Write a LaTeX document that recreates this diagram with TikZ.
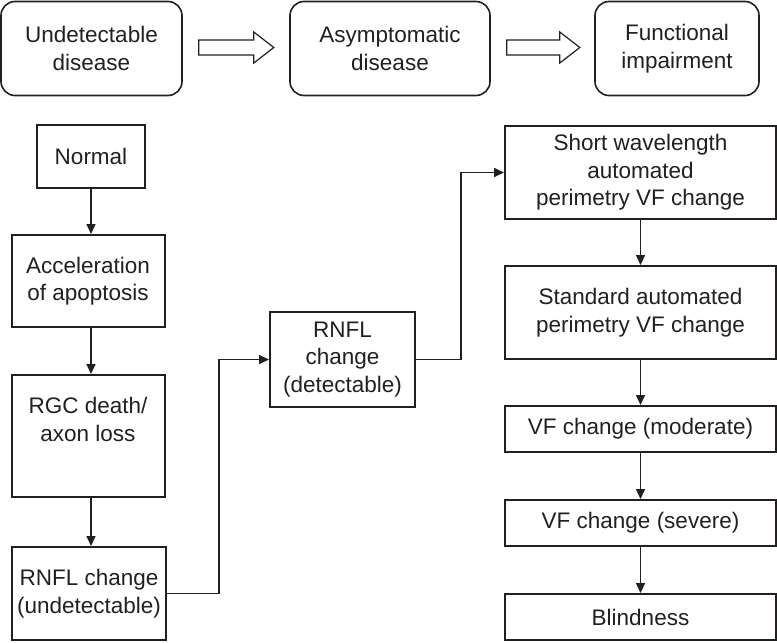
\documentclass[tikz,border=0pt]{standalone}
\usepackage{fontspec}
\setmainfont{Liberation Sans}
\usetikzlibrary{arrows.meta,calc}
\definecolor{ink}{HTML}{231F20}
\begin{document}
\begin{tikzpicture}[x=1pt,y=-1pt,
  every node/.style={font=\fontsize{22.5}{27.5}\selectfont, text=ink},
  bx/.style={draw=ink, line width=2pt, inner sep=0pt, align=center},
  topbox/.style={bx, rounded corners=14pt, line width=1.6pt},
  conn/.style={draw=ink, line width=1.6pt, -{Triangle[length=10pt,width=9pt]}},
  harrow/.style={draw=ink, line width=1.2pt, line join=miter}]
\useasboundingbox (0,0) rectangle (777,643);
% top row
\node[topbox, minimum width=181pt, minimum height=94pt] (t1) at (91.5,48.5) {Undetectable\\disease};
\node[topbox, minimum width=200pt, minimum height=94pt] (t2) at (390,48.5) {Asymptomatic\\disease};
\node[topbox, minimum width=164pt, minimum height=94pt] (t3) at (677,48.5) {Functional\\impairment};
\draw[harrow, shift={($(t1.east)+(16,-1)$)}] (0,-7.5) -- (55,-7.5) -- (55,-15.5) -- (75,0) -- (55,15.5) -- (55,7.5) -- (0,7.5) -- cycle;
\draw[harrow, shift={($(t2.east)+(16,-1)$)}] (0,-7.5) -- (53,-7.5) -- (53,-15.5) -- (73,0) -- (53,15.5) -- (53,7.5) -- (0,7.5) -- cycle;
% left column
\node[bx, minimum width=108pt, minimum height=63pt] (normal) at (91,156.5) {Normal};
\node[bx, minimum width=153pt, minimum height=92pt] (accel) at (88,281) {Acceleration\\of apoptosis};
\node[bx, minimum width=153pt, minimum height=122pt] (rgc) at (88,436) {RGC death/\\axon loss\\[6pt]};
\node[bx, minimum width=154pt, minimum height=93pt] (rnflu) at (89,593.5) {RNFL change\\(undetectable)};
% middle
\node[bx, minimum width=145pt, minimum height=95pt] (rnfld) at (342.5,359.5) {RNFL\\change\\(detectable)};
% right column
\node[bx, minimum width=271pt, minimum height=93pt] (short) at (640.5,172.5) {Short wavelength\\automated\\perimetry VF change};
\node[bx, minimum width=271pt, minimum height=93pt] (std) at (640.5,312.5) {Standard automated\\perimetry VF change};
\node[bx, minimum width=271pt, minimum height=46pt] (mod) at (640.5,429) {VF change (moderate)};
\node[bx, minimum width=271pt, minimum height=46pt] (sev) at (640.5,523) {VF change (severe)};
\node[bx, minimum width=271pt, minimum height=46pt] (blind) at (640.5,617) {Blindness};
% connectors
\draw[conn] (normal.south) -- (normal.south |- accel.north);
\draw[conn] (normal.south |- accel.south) -- (normal.south |- rgc.north);
\draw[conn] (normal.south |- rgc.south) -- (normal.south |- rnflu.north);
\draw[conn] (rnflu.east) -- ++(52,0) |- (rnfld.west);
\draw[conn] (rnfld.east) -- ++(45,0) |- (short.west);
\draw[conn] (short.south) -- (std.north);
\draw[conn] (std.south) -- (mod.north);
\draw[conn] (mod.south) -- (sev.north);
\draw[conn] (sev.south) -- (blind.north);
\end{tikzpicture}
\end{document}
